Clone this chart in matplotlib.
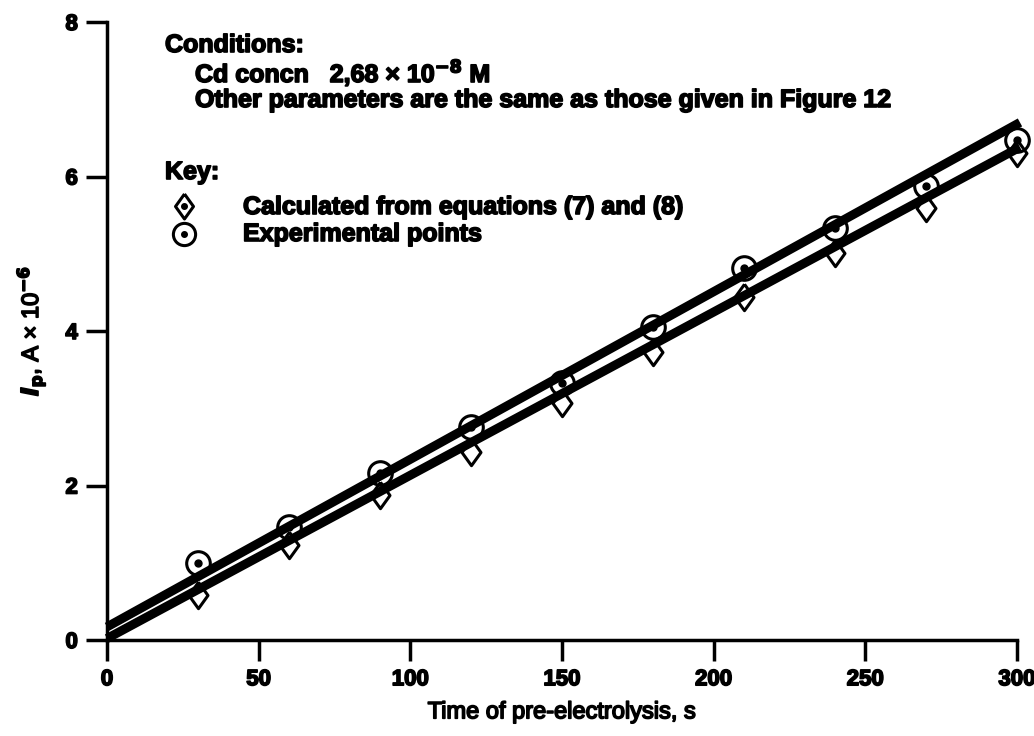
import matplotlib.pyplot as plt
import matplotlib.patheffects as pe

plt.rcParams['font.family'] = ['Liberation Sans', 'DejaVu Sans']
plt.rcParams['font.weight'] = 'bold'

# Values
time_s = [30, 60, 90, 120, 150, 180, 210, 240, 270, 300]
calculated = [0.58, 1.23, 1.88, 2.43, 3.07, 3.73, 4.44, 5.01, 5.59, 6.30]
experimental = [1.00, 1.46, 2.16, 2.76, 3.33, 4.05, 4.82, 5.33, 5.88, 6.47]

# fitted straight lines, end points
line_x = [0, 301]
upper_line = [0.17, 6.70]
lower_line = [0.02, 6.38]

diamond = [(0, 1), (0.72, 0), (0, -1), (-0.72, 0), (0, 1)]
thick = [pe.withStroke(linewidth=1.2, foreground='black')]

fig = plt.figure(figsize=(10.34, 7.36), dpi=100)
ax = fig.add_axes([0.1035, 0.1304, 0.880, 0.8397])

ax.plot(line_x, upper_line, color='black', lw=6.5, solid_capstyle='butt', zorder=2, clip_on=False)
ax.plot(line_x, lower_line, color='black', lw=6.5, solid_capstyle='butt', zorder=2, clip_on=False)

ax.plot(time_s, calculated, ls='none', marker=diamond, ms=19, mfc='none', mec='black', mew=2.2,
        zorder=3, clip_on=False)
ax.plot(time_s, experimental, ls='none', marker='o', ms=17, mfc='none', mec='black', mew=2.2,
        zorder=3, clip_on=False)
ax.plot(time_s, experimental, ls='none', marker='o', ms=5, mfc='black', mec='black', zorder=4,
        clip_on=False)

ax.set_xlim(0, 300)
ax.set_ylim(0, 8)
ax.set_xticks([0, 50, 100, 150, 200, 250, 300])
ax.set_yticks([0, 2, 4, 6, 8])
ax.spines['top'].set_visible(False)
ax.spines['right'].set_visible(False)
for s in ('left', 'bottom'):
    ax.spines[s].set_linewidth(2.5)
ax.tick_params(axis='both', direction='out', length=15, width=2.5, labelsize=16, pad=6)
for lab in ax.get_xticklabels() + ax.get_yticklabels():
    lab.set_path_effects(thick)

ax.set_xlabel('Time of pre-electrolysis, s', fontsize=17, labelpad=8, path_effects=thick)
ax.set_ylabel(r'$\mathit{I}_{\mathbf{p}}$, A × 10$^{-6}$', fontsize=17, labelpad=12, path_effects=thick)

tk = dict(transform=fig.transFigure, fontsize=18, va='center', ha='left', path_effects=thick)
W, H = 1034.0, 736.0
fig.text(165 / W, 1 - 45 / H, 'Conditions:', **tk)
fig.text(195 / W, 1 - 73 / H, 'Cd concn   2,68 × 10$^{-8}$ M', **tk)
fig.text(195 / W, 1 - 100 / H, 'Other parameters are the same as those given in Figure 12', **tk)
fig.text(165 / W, 1 - 172 / H, 'Key:', **tk)
fig.text(243 / W, 1 - 207 / H, 'Calculated from equations (7) and (8)', **tk)
fig.text(243 / W, 1 - 234 / H, 'Experimental points', **tk)

# key symbols
fig.lines.append(plt.Line2D([184 / W], [1 - 206 / H], transform=fig.transFigure, marker=diamond, ms=18,
                            mfc='none', mec='black', mew=2.2))
fig.lines.append(plt.Line2D([184 / W], [1 - 206 / H], transform=fig.transFigure, marker='o', ms=4,
                            mfc='black', mec='black'))
fig.lines.append(plt.Line2D([184 / W], [1 - 234 / H], transform=fig.transFigure, marker='o', ms=16,
                            mfc='none', mec='black', mew=2.2))
fig.lines.append(plt.Line2D([184 / W], [1 - 234 / H], transform=fig.transFigure, marker='o', ms=4,
                            mfc='black', mec='black'))

fig.savefig('out.png', dpi=100, facecolor='white')
